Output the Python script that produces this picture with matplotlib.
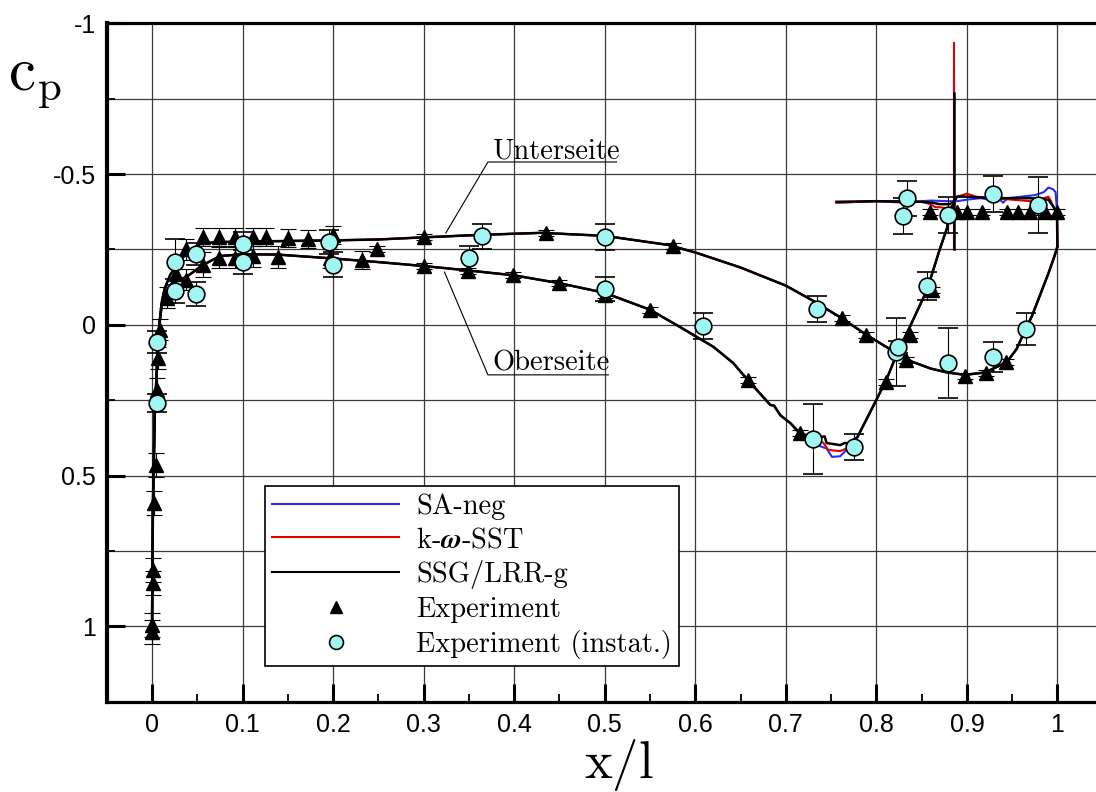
import numpy as np
import matplotlib
matplotlib.use("Agg")
import matplotlib.pyplot as plt
from matplotlib.lines import Line2D
from matplotlib.ticker import MultipleLocator, FixedLocator, FixedFormatter

plt.rcParams['mathtext.fontset'] = 'cm'
plt.rcParams['axes.unicode_minus'] = False

# ---- CFD: Unterseite (oberer Ast), gemeinsam fuer alle Modelle
x_unter = [0.0, 0.0005, 0.001, 0.002, 0.003, 0.0045, 0.006, 0.008, 0.011, 0.014, 0.02,
           0.031, 0.042, 0.053, 0.07, 0.1, 0.2, 0.25, 0.3, 0.36, 0.43, 0.5, 0.57, 0.6,
           0.65, 0.7, 0.73, 0.76, 0.79, 0.82, 0.84, 0.86, 0.878, 0.898, 0.92, 0.944,
           0.955, 0.964, 0.972, 0.981, 0.99, 0.997, 1.0]
cp_unter = [1.0, 0.8, 0.6, 0.45, 0.3, 0.2, 0.1, 0.0, -0.08, -0.12, -0.165,
            -0.214, -0.248, -0.268, -0.274, -0.276, -0.28, -0.283, -0.29, -0.298, -0.305, -0.295, -0.265, -0.24,
            -0.19, -0.13, -0.08, -0.025, 0.035, 0.09, 0.123, 0.145, 0.158, 0.166, 0.158, 0.124,
            0.08, 0.02, -0.03, -0.1, -0.17, -0.23, -0.26]

# ---- CFD: Oberseite (unterer Ast), vorderer und hinterer Teil gemeinsam
x_ober_a = [0.0, 0.0005, 0.001, 0.002, 0.003, 0.0045, 0.006, 0.008, 0.011, 0.014, 0.022,
            0.038, 0.056, 0.075, 0.1, 0.138, 0.2, 0.25, 0.3, 0.35, 0.4, 0.45, 0.5, 0.55,
            0.583, 0.62, 0.642, 0.658, 0.683, 0.687, 0.694, 0.705]
cp_ober_a = [1.0, 0.8, 0.6, 0.45, 0.3, 0.2, 0.1, 0.0, -0.07, -0.105, -0.138,
             -0.159, -0.198, -0.228, -0.234, -0.233, -0.22, -0.208, -0.195, -0.18, -0.164, -0.138, -0.106, -0.05,
             0.007, 0.073, 0.127, 0.183, 0.266, 0.268, 0.3, 0.326]
x_ober_b = [0.779, 0.796, 0.811, 0.823, 0.837, 0.856, 0.87, 0.878, 0.881, 0.885]
cp_ober_b = [0.373, 0.273, 0.183, 0.094, 0.007, -0.116, -0.25, -0.32, -0.37, -0.40]

# Abloesebereich je Modell
x_dip_sa = [0.705, 0.716, 0.725, 0.732, 0.74, 0.745, 0.751, 0.76, 0.767, 0.772, 0.779]
cp_dip_sa = [0.33, 0.365, 0.38, 0.395, 0.405, 0.41, 0.438, 0.436, 0.415, 0.40, 0.373]
x_dip_sst = [0.705, 0.716, 0.73, 0.741, 0.747, 0.76, 0.767, 0.772, 0.779]
cp_dip_sst = [0.328, 0.362, 0.38, 0.39, 0.415, 0.419, 0.41, 0.40, 0.373]
x_dip_ssg = [0.705, 0.716, 0.73, 0.737, 0.743, 0.745, 0.76, 0.765, 0.769, 0.779]
cp_dip_ssg = [0.326, 0.36, 0.372, 0.373, 0.37, 0.392, 0.399, 0.392, 0.393, 0.373]

# obere Linie (Hinterkante bei x=1 bis x=0.756) je Modell
x_top_sa = [1.0, 0.9995, 0.998, 0.995, 0.99, 0.985, 0.975, 0.96, 0.945, 0.94, 0.935, 0.925,
            0.915, 0.9, 0.889, 0.88, 0.86, 0.85, 0.83, 0.8, 0.756]
cp_top_sa = [-0.26, -0.38, -0.44, -0.45, -0.455, -0.44, -0.43, -0.425, -0.42, -0.405, -0.42, -0.415,
             -0.42, -0.415, -0.41, -0.41, -0.412, -0.41, -0.405, -0.41, -0.405]
x_top_sst = [1.0, 0.9995, 0.997, 0.993, 0.99, 0.985, 0.97, 0.95, 0.93, 0.91, 0.9, 0.895, 0.889,
             0.886, 0.88, 0.87, 0.865, 0.86, 0.85, 0.8, 0.756]
cp_top_sst = [-0.26, -0.36, -0.38, -0.41, -0.425, -0.42, -0.41, -0.415, -0.42, -0.425, -0.435, -0.43, -0.425,
              -0.40, -0.385, -0.39, -0.39, -0.40, -0.408, -0.41, -0.405]
x_top_ssg = [1.0, 0.9995, 0.996, 0.99, 0.97, 0.93, 0.9, 0.889, 0.886, 0.881, 0.87, 0.862,
             0.85, 0.8, 0.756]
cp_top_ssg = [-0.26, -0.37, -0.39, -0.415, -0.42, -0.42, -0.425, -0.425, -0.41, -0.40, -0.40, -0.405,
              -0.408, -0.41, -0.408]

# Spitze an der Hinterkante des Hauptfluegels
x_spike = 0.886
cp_spike_base = -0.25
cp_spike_sa = -0.85
cp_spike_sst = -0.935
cp_spike_ssg = -0.77

# ---- Experiment (Dreiecke)
x_exp = [0.0, 0.0, 0.001, 0.001, 0.002, 0.004, 0.005, 0.007, 0.009, 0.017, 0.027, 0.037, 0.037,
         0.056, 0.056, 0.074, 0.074, 0.092, 0.092, 0.112, 0.112, 0.126, 0.139, 0.15, 0.172,
         0.2, 0.197, 0.232, 0.248,
         0.3, 0.435, 0.575, 0.762, 0.789, 0.833, 0.898, 0.921, 0.943,
         0.3, 0.349, 0.399, 0.45, 0.5, 0.55, 0.658, 0.716, 0.811, 0.837, 0.862,
         0.859, 0.889, 0.9, 0.917, 0.944, 0.957, 0.97, 0.986, 1.0]
cp_exp = [1.02, 0.996, 0.857, 0.814, 0.59, 0.465, 0.216, 0.11, 0.017, -0.09, -0.17, -0.25, -0.15,
          -0.29, -0.2, -0.29, -0.222, -0.29, -0.222, -0.29, -0.228, -0.29, -0.225, -0.287, -0.284,
          -0.298, -0.22, -0.214, -0.25,
          -0.29, -0.305, -0.26, -0.022, 0.034, 0.117, 0.169, 0.16, 0.124,
          -0.195, -0.18, -0.164, -0.138, -0.1, -0.048, 0.183, 0.36, 0.19, 0.034, -0.115,
          -0.373, -0.373, -0.373, -0.373, -0.373, -0.373, -0.373, -0.373, -0.373]
err_exp = [0.04, 0.04, 0.04, 0.04, 0.04, 0.04, 0.04, 0.035, 0.035, 0.035, 0.04, 0.035, 0.035,
           0.03, 0.04, 0.03, 0.035, 0.03, 0.035, 0.03, 0.035, 0.03, 0.035, 0.03, 0.03,
           0.03, 0.03, 0.03, 0.01,
           0.01, 0.01, 0.01, 0.01, 0.01, 0.01, 0.01, 0.01, 0.01,
           0.01, 0.01, 0.01, 0.01, 0.01, 0.01, 0.01, 0.01, 0.01, 0.01, 0.01,
           0.01, 0.01, 0.01, 0.01, 0.01, 0.01, 0.01, 0.01, 0.01]

# ---- Experiment instationaer (Kreise)
x_inst = [0.006, 0.006, 0.025, 0.025, 0.049, 0.049, 0.1, 0.1, 0.195, 0.2, 0.35, 0.365, 0.5, 0.5,
          0.608, 0.734, 0.73, 0.775, 0.822, 0.824, 0.856, 0.879, 0.929, 0.965,
          0.834, 0.83, 0.879, 0.929, 0.979]
cp_inst = [0.057, 0.26, -0.208, -0.112, -0.235, -0.102, -0.268, -0.208, -0.275, -0.2, -0.22, -0.293, -0.29, -0.12,
           0.004, -0.052, 0.378, 0.405, 0.09, 0.074, -0.128, 0.127, 0.107, 0.014,
           -0.42, -0.36, -0.363, -0.434, -0.398]
err_inst = [0.035, 0.03, 0.075, 0.04, 0.035, 0.04, 0.04, 0.04, 0.04, 0.042, 0.04, 0.04, 0.043, 0.04,
            0.043, 0.043, 0.116, 0.043, 0.112, 0.02, 0.047, 0.116, 0.05, 0.054,
            0.058, 0.06, 0.06, 0.06, 0.092]

x_ticks = [0.0, 0.1, 0.2, 0.3, 0.4, 0.5, 0.6, 0.7, 0.8, 0.9, 1.0]
x_ticklabels = ['0', '0.1', '0.2', '0.3', '0.4', '0.5', '0.6', '0.7', '0.8', '0.9', '1']
y_ticks = [-1.0, -0.5, 0.0, 0.5, 1.0]
y_ticklabels = ['-1', '-0.5', '0', '0.5', '1']

models = ['SA-neg', r'k-$\boldsymbol{\omega}$-SST', 'SSG/LRR-g']
colors = ['#2a2aff', '#e00000', 'black']
widths = [1.5, 1.5, 1.8]

fig = plt.figure(figsize=(10.96, 7.92), dpi=100)
ax = fig.add_axes([0.0974, 0.114, 0.9087, 0.8566])

dips = [(x_dip_sa, cp_dip_sa), (x_dip_sst, cp_dip_sst), (x_dip_ssg, cp_dip_ssg)]
tops = [(x_top_sa, cp_top_sa), (x_top_sst, cp_top_sst), (x_top_ssg, cp_top_ssg)]
spikes = [cp_spike_sa, cp_spike_sst, cp_spike_ssg]

for i in range(3):
    c = colors[i]
    lw = widths[i]
    ax.plot(x_unter, cp_unter, color=c, lw=lw, zorder=3)
    xo = list(x_ober_a) + list(dips[i][0][1:]) + list(x_ober_b[1:])
    co = list(cp_ober_a) + list(dips[i][1][1:]) + list(cp_ober_b[1:])
    ax.plot(xo, co, color=c, lw=lw, zorder=3)
    ax.plot(tops[i][0], tops[i][1], color=c, lw=lw, zorder=3)
    ax.plot([x_spike, x_spike], [cp_spike_base, spikes[i]], color=c, lw=lw, zorder=3)

ax.errorbar(x_exp, cp_exp, yerr=err_exp, fmt='^', color='black', ms=10, ecolor='black',
            elinewidth=0.8, capsize=6, capthick=0.8, zorder=4)
ax.errorbar(x_inst, cp_inst, yerr=err_inst, fmt='o', mfc='#a0f7f2', mec='black', mew=1.2, ms=12,
            ecolor='black', elinewidth=0.8, capsize=7, capthick=0.8, zorder=5)

# Beschriftungen Unterseite / Oberseite
ax.plot([0.3245, 0.371, 0.513], [-0.3045, -0.54, -0.54], color='black', lw=0.8, zorder=6)
ax.text(0.376, -0.553, 'Unterseite', family='cmr10', fontsize=20.5, va='baseline', ha='left')
ax.plot([0.323, 0.371, 0.504], [-0.175, 0.166, 0.166], color='black', lw=0.8, zorder=6)
ax.text(0.376, 0.15, 'Oberseite', family='cmr10', fontsize=20.5, va='baseline', ha='left')

ax.set_xlim(-0.05, 1.05)
ax.set_ylim(1.25, -1.0)

ax.xaxis.set_major_locator(FixedLocator(x_ticks))
ax.xaxis.set_major_formatter(FixedFormatter(x_ticklabels))
ax.xaxis.set_minor_locator(MultipleLocator(0.05))
ax.yaxis.set_major_locator(FixedLocator(y_ticks))
ax.yaxis.set_major_formatter(FixedFormatter(y_ticklabels))
ax.yaxis.set_minor_locator(MultipleLocator(0.25))

ax.grid(True, which='major', axis='x', color='#3a3a3a', lw=0.9, zorder=0)
ax.grid(True, which='both', axis='y', color='#3a3a3a', lw=0.9, zorder=0)
ax.set_axisbelow(True)

ax.tick_params(which='major', direction='in', length=13, width=2.2, labelsize=18, pad=8,
               top=False, right=False)
ax.tick_params(which='minor', direction='in', length=6, width=1.3, top=False, right=False)
for lab in ax.get_xticklabels() + ax.get_yticklabels():
    lab.set_family('Liberation Sans')

ax.spines['left'].set_linewidth(3.0)
ax.spines['bottom'].set_linewidth(2.3)
ax.spines['top'].set_linewidth(2.3)
ax.spines['right'].set_linewidth(2.3)

fig.text(8 / 1096, (792 - 90) / 792, r'$\mathrm{c_p}$', fontsize=44, ha='left', va='baseline')
fig.text(619 / 1096, 14 / 792, r'$\mathrm{x/l}$', fontsize=38, ha='center', va='baseline')

handles = [Line2D([], [], color=colors[0], lw=1.5),
           Line2D([], [], color=colors[1], lw=1.5),
           Line2D([], [], color=colors[2], lw=1.5),
           Line2D([], [], ls='none', marker='^', color='black', ms=9),
           Line2D([], [], ls='none', marker='o', mfc='#a0f7f2', mec='black', mew=1.2, ms=10)]
labels = models + ['Experiment', 'Experiment (instat.)']
leg = ax.legend(handles, labels, loc='lower left', bbox_to_anchor=(0.159, 0.0526),
                borderaxespad=0, prop={'family': 'cmr10', 'size': 20.5}, handlelength=4.45,
                handletextpad=0.6, labelspacing=0.25, borderpad=0.25, fancybox=False,
                framealpha=1, edgecolor='black')
leg.get_frame().set_linewidth(1.2)
leg.set_zorder(10)

fig.savefig('out.png', dpi=100)
